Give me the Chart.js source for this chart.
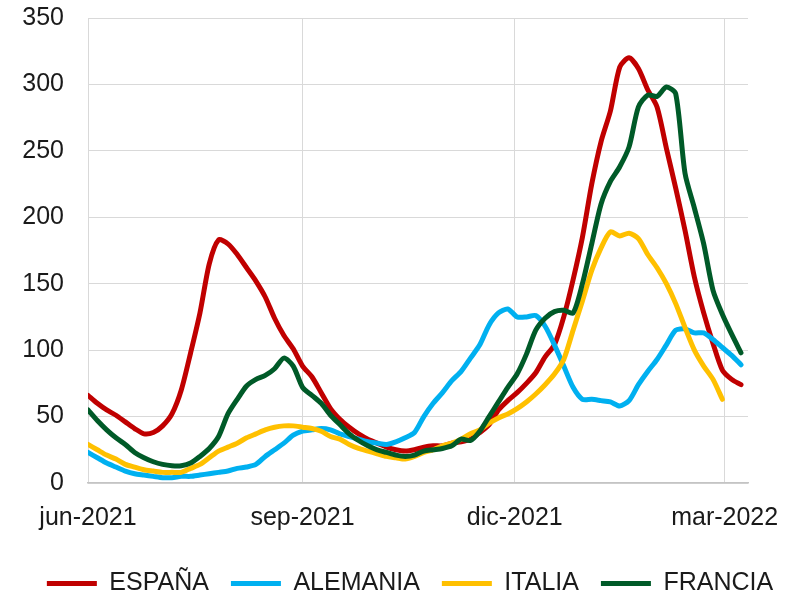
<!DOCTYPE html>
<html>
<head>
<meta charset="utf-8">
<title>Incidencia</title>
<script src="https://cdn.jsdelivr.net/npm/chart.js@4.4.1/dist/chart.umd.min.js"></script>
<style>
  html, body { margin: 0; padding: 0; background: #fff; }
  #wrap { width: 785px; height: 595px; }
</style>
</head>
<body>
<div id="wrap"><canvas id="chart"></canvas></div>
<script>
// days since 1 jun 2021, one sample every 4 days
const days = [0,4,8,12,16,20,24,28,32,36,40,44,48,52,56,60,64,68,72,76,80,84,88,92,96,100,104,108,112,116,120,124,128,132,136,140,144,148,152,156,160,164,168,172,176,180,184,188,192,196,200,204,208,212,216,220,224,228,232,236,240,244,248,252,256,260,264,268,272,276,280]

const espana = [66,60,55,51,46,41,37,38,43,52,70,98,128,165,183,180,172,162,152,140,124,111,101,88,80,68,56,48,42,37,33,30,27,25,24,25,27,28,28,30,31,33,38,44,55,62,68,75,83,95,104,125,153,185,225,257,280,313,320,312,296,283,252,222,190,155,128,105,85,78,74]
const alemania = [23,19,15,12,9,7,6,5,4,4,5,5,6,7,8,9,11,12,14,20,25,30,36,39,40,41,40,37,35,33,31,30,29,31,34,38,50,60,68,77,84,94,104,119,128,131,125,125,126,118,104,88,72,63,63,62,61,58,62,74,84,93,104,115,116,113,113,108,102,96,89]
const italia = [29,25,21,18,14,12,10,9,8,8,8,11,14,19,24,27,30,34,37,40,42,43,43,42,41,39,35,33,29,26,24,22,20,19,18,20,23,25,28,30,33,37,40,45,49,52,56,61,67,74,82,93,115,137,160,177,189,186,188,184,172,162,150,135,117,100,88,78,63,null,null]
const francia = [55,47,40,34,29,23,19,16,14,13,13,15,20,26,35,52,63,73,78,81,86,94,88,72,66,60,51,44,37,32,28,25,23,21,20,21,24,25,26,28,33,32,39,50,61,72,82,97,115,124,129,130,128,150,180,210,227,238,253,283,292,291,298,293,233,207,180,145,127,112,98]

const tickDays = [0, 92, 183, 273]
const tickLabels = ['jun-2021', 'sep-2021', 'dic-2021', 'mar-2022']

const toPoints = (vals) => vals.map((v, i) => ({ x: days[i], y: v }))

const FONT = "'Liberation Sans', Arial, Helvetica, sans-serif"
const INK = '#1a1a1a'
const GRID = '#d9d9d9'

const mk = (label, vals, color, order) => ({
  label: label,
  data: toPoints(vals),
  borderColor: color,
  backgroundColor: color,
  borderWidth: 5,
  borderCapStyle: 'round',
  borderJoinStyle: 'round',
  pointRadius: 0,
  pointHoverRadius: 0,
  tension: 0.25,
  fill: false,
  order: order
})

new Chart(document.getElementById('chart'), {
  type: 'line',
  data: {
    datasets: [
      mk('ESPAÑA', espana, '#c00000', 4),
      mk('ALEMANIA', alemania, '#00b0f0', 3),
      mk('ITALIA', italia, '#ffc000', 2),
      mk('FRANCIA', francia, '#005a28', 1)
    ]
  },
  options: {
    responsive: true,
    maintainAspectRatio: false,
    animation: false,
    // shifted a little to the right so the legend sits where excel put it
    layout: { padding: { top: 0, right: -17.5, left: 17.5, bottom: -11 } },
    plugins: {
      tooltip: { enabled: false },
      legend: {
        position: 'bottom',
        labels: {
          usePointStyle: true,
          pointStyle: 'line',
          pointStyleWidth: 50,
          padding: 22,
          color: INK,
          font: { family: FONT, size: 25 },
          sort: (a, b) => a.datasetIndex - b.datasetIndex
        }
      }
    },
    scales: {
      x: {
        type: 'linear',
        min: 0,
        max: 283,
        afterBuildTicks: (axis) => {
          axis.ticks = tickDays.map(v => ({ value: v }))
        },
        afterFit: (axis) => {
          axis.height = 66
          axis.paddingLeft = 0
          axis.paddingRight = 0
        },
        grid: { color: GRID, drawTicks: false },
        border: { color: '#c4c4c4', width: 1.5 },
        ticks: {
          padding: 20,
          maxRotation: 0,
          color: INK,
          font: { family: FONT, size: 25 },
          callback: (v) => tickLabels[tickDays.indexOf(v)]
        }
      },
      y: {
        min: 0,
        max: 350,
        afterFit: (axis) => {
          axis.width = 70.5
          axis.paddingTop = 18
          axis.paddingBottom = 0
        },
        grid: { color: GRID, drawTicks: false },
        border: { display: false },
        ticks: {
          stepSize: 50,
          padding: 24,
          color: INK,
          font: { family: FONT, size: 25 }
        }
      },
      // empty strip that keeps the plot clear of the right edge
      gap: {
        position: 'right',
        min: 0,
        max: 1,
        afterFit: (axis) => { axis.width = 54.5 },
        grid: { display: false, drawTicks: false },
        border: { display: false },
        ticks: { display: false }
      }
    }
  }
})
</script>
</body>
</html>
